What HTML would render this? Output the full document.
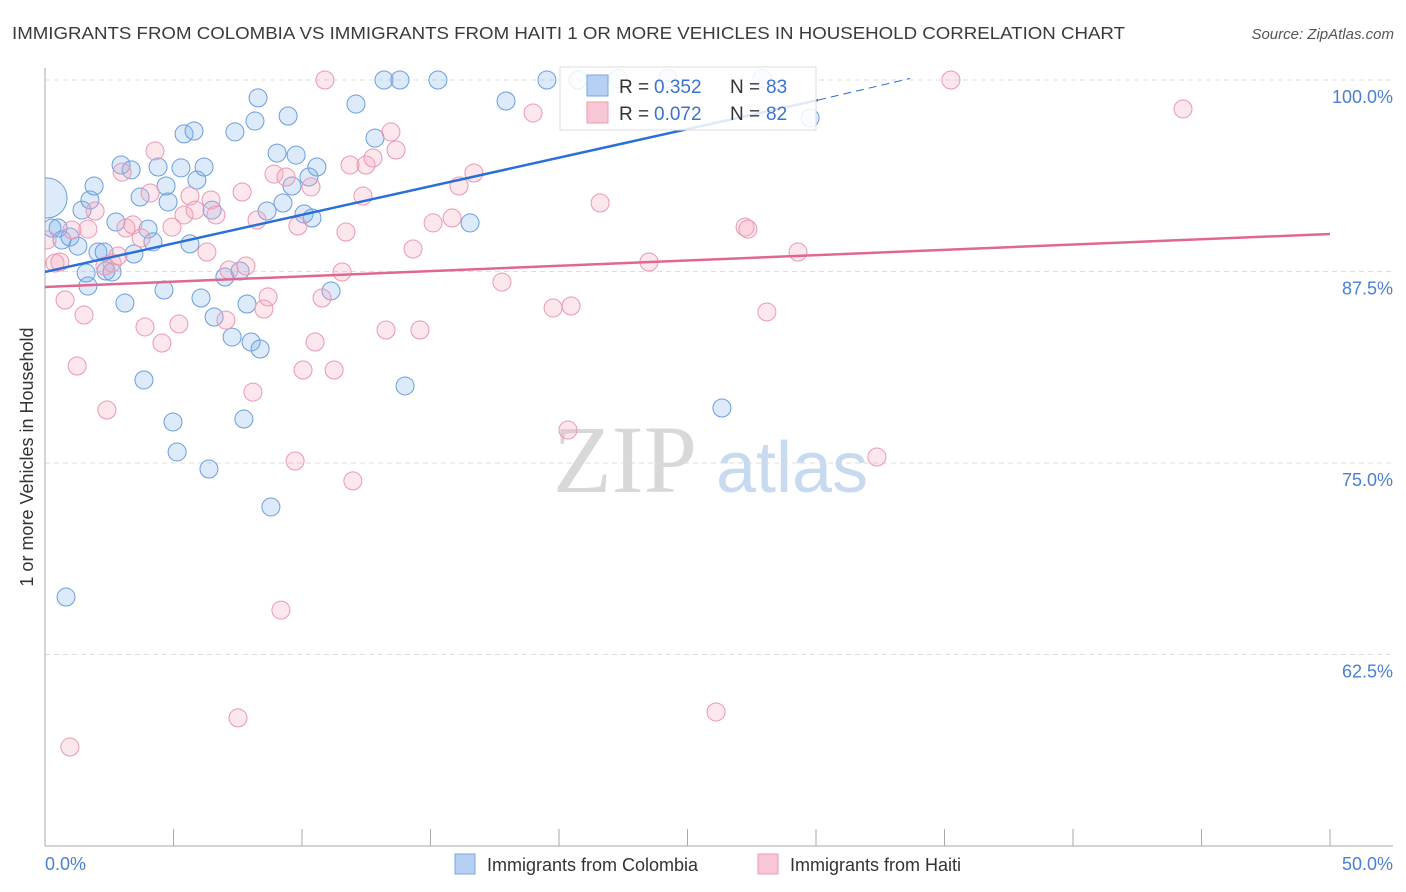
<!DOCTYPE html>
<html><head><meta charset="utf-8"><style>
body{margin:0;background:#fff;font-family:"Liberation Sans",sans-serif}
svg{display:block}
</style></head><body>
<svg id="chart" width="1406" height="892">
<defs><clipPath id="plotclip"><rect x="45" y="60" width="1360" height="786"/></clipPath></defs>
<text x="12" y="39" font-size="17.5" fill="#3a3a3a" textLength="1113" lengthAdjust="spacingAndGlyphs">IMMIGRANTS FROM COLOMBIA VS IMMIGRANTS FROM HAITI 1 OR MORE VEHICLES IN HOUSEHOLD CORRELATION CHART</text>
<text x="1394" y="39" font-size="15" font-style="italic" fill="#555" text-anchor="end">Source: ZipAtlas.com</text>
<text x="0" y="0" transform="translate(33,457) rotate(-90)" font-size="18" fill="#333" text-anchor="middle">1 or more Vehicles in Household</text>
<g>
<text x="553" y="492" font-family="Liberation Serif,serif" font-size="96" fill="#d8d8d8">ZIP</text>
<text x="716" y="492" font-size="72" fill="#c8daf0">atlas</text>
</g>
<g id="grid"></g><g id="axes"></g><g id="pts" clip-path="url(#plotclip)"></g><g id="lines"></g>
<g>
<rect x="560" y="67" width="256" height="63" fill="#fff" fill-opacity="0.85" stroke="#ddd"/>
<rect x="587" y="75" width="21" height="21" fill="#b5d0f3" stroke="#7aa6e0"/>
<rect x="587" y="102" width="21" height="21" fill="#f8c7d5" stroke="#eb9bb5"/>
<text x="619" y="93" font-size="19" fill="#333">R =</text>
<text x="654" y="93" font-size="19" fill="#3a72d0">0.352</text>
<text x="730" y="93" font-size="19" fill="#333">N =</text>
<text x="766" y="93" font-size="19" fill="#3a72d0">83</text>
<text x="619" y="120" font-size="19" fill="#333">R =</text>
<text x="654" y="120" font-size="19" fill="#3a72d0">0.072</text>
<text x="730" y="120" font-size="19" fill="#333">N =</text>
<text x="766" y="120" font-size="19" fill="#3a72d0">82</text>
</g>
<g>
<rect x="455" y="854" width="20" height="20" fill="#b5d0f3" stroke="#7aa6e0"/>
<text x="487" y="871" font-size="18" fill="#333">Immigrants from Colombia</text>
<rect x="758" y="854" width="20" height="20" fill="#f8c7d5" stroke="#eb9bb5"/>
<text x="790" y="871" font-size="18" fill="#333">Immigrants from Haiti</text>
</g>
</svg>
<script>
const yTicks=[100,87.5,75,62.5];
const yTickLabels=["100.0%","87.5%","75.0%","62.5%"];
const xTickLabels=["0.0%","50.0%"];
const blueX=[0.08,0.27,0.51,0.66,0.97,1.28,1.60,1.67,1.44,1.75,1.91,2.06,2.30,2.37,2.61,2.76,3.11,2.96,3.35,3.46,3.70,4.01,3.85,4.20,4.40,4.63,4.71,4.79,4.98,5.14,5.29,5.41,5.64,5.80,5.91,6.07,6.19,6.38,6.50,6.58,7.00,7.28,7.39,7.59,7.74,7.86,8.02,8.17,8.29,8.37,8.64,8.79,9.03,9.26,9.46,9.61,9.77,10.08,10.27,10.39,10.58,11.13,12.10,12.84,13.19,13.81,14.01,15.29,16.54,17.94,19.53,20.74,22.30,24.24,26.34,27.90,29.77,0.82];
const blueY=[92.3,90.34,90.34,89.56,89.75,89.16,87.40,86.55,91.51,92.17,93.08,88.77,88.77,87.53,87.47,90.73,85.44,94.45,94.13,88.64,92.36,90.27,80.42,89.43,94.32,86.29,93.08,92.04,77.68,75.72,94.26,96.48,89.30,96.67,93.47,85.77,94.32,74.61,91.51,84.53,87.14,83.22,96.61,87.53,77.87,85.38,82.90,97.32,98.83,82.44,91.45,72.13,95.23,91.97,97.65,93.08,95.10,91.25,93.67,90.99,94.32,86.23,98.43,96.21,100,100,80.03,100,90.67,98.63,100,100,100.1,100.1,78.59,100.1,97.52,66.25];
const pinkX=[0.08,0.39,0.58,0.78,1.05,1.25,1.52,1.67,1.95,2.41,2.33,2.61,2.84,3.00,3.15,3.42,3.89,3.74,4.09,4.28,4.55,4.94,5.21,5.41,5.64,5.84,6.30,6.46,6.65,7.04,7.16,7.51,7.67,7.82,8.09,8.25,8.52,8.68,8.91,9.18,9.38,9.73,9.84,10.04,10.35,10.51,10.78,10.89,11.25,11.56,11.71,11.87,11.98,12.37,12.49,12.76,13.27,13.46,13.66,14.32,14.59,15.10,15.84,16.11,16.69,17.78,18.99,19.77,20.35,20.47,21.60,23.50,26.11,27.24,27.35,28.09,29.30,32.37,35.25,44.28,0.97];
const pinkY=[89.56,88.05,88.12,85.64,90.21,81.33,84.66,90.27,91.45,78.46,87.86,88.05,88.51,93.99,90.34,90.54,83.88,89.69,92.62,95.37,82.83,90.40,84.07,91.19,92.43,91.51,88.77,92.17,91.19,84.33,87.60,58.36,92.69,87.86,79.63,90.86,85.05,85.84,93.86,65.40,93.67,75.13,90.47,81.07,93.02,82.90,85.77,100,81.07,87.47,90.08,94.45,73.83,92.43,94.45,94.91,83.68,96.61,95.43,88.97,83.68,90.67,90.99,93.08,93.93,86.81,97.85,85.12,77.15,85.25,91.97,88.12,58.75,90.40,90.27,84.86,88.77,75.39,100,98.11,56.46];
const blueFit=[87.47,98.69,30.08,33.66,100.1];
const pinkFit=[86.49,89.95];
const NS="http://www.w3.org/2000/svg";
const X=v=>45+v/50*1285, Y=v=>80+(100-v)/12.5*191.5;
function mk(p,t,a){const e=document.createElementNS(NS,t);for(const k in a)e.setAttribute(k,a[k]);document.getElementById(p).appendChild(e);return e;}
yTicks.forEach((t,i)=>{
 const g=mk('grid','line',{x1:45,x2:1393,y1:Y(t),y2:Y(t),stroke:'#ddd','stroke-dasharray':'5,4'});
 
 
 const l=mk('grid','text',{x:1393,y:Y(t)+23,'font-size':18,fill:'#4a7fd4','text-anchor':'end'});l.textContent=yTickLabels[i];
 
 
});
const ya=mk('axes','line',{x1:45,x2:45,y1:68,y2:846,stroke:'#aaa'});


const xa=mk('axes','line',{x1:45,x2:1393,y1:846,y2:846,stroke:'#aaa'});


for(let i=1;i<=10;i++){const t=mk('axes','line',{x1:X(i*5),x2:X(i*5),y1:829,y2:846,stroke:'#aaa'});
 
 }
const l0=mk('axes','text',{x:45,y:870,'font-size':18,fill:'#4a7fd4'});l0.textContent=xTickLabels[0];


const l1=mk('axes','text',{x:1393,y:870,'font-size':18,fill:'#4a7fd4','text-anchor':'end'});l1.textContent=xTickLabels[1];


blueX.forEach((v,i)=>{const c=mk('pts','circle',{cx:X(v),cy:Y(blueY[i]),r:i==0?20:9,fill:'rgba(130,178,236,0.28)',stroke:'#6a9ddd','stroke-width':1});
 
 });
pinkX.forEach((v,i)=>{const c=mk('pts','circle',{cx:X(v),cy:Y(pinkY[i]),r:9,fill:'rgba(246,168,192,0.28)',stroke:'#eb97b2','stroke-width':1});
 
 });
const bl=mk('lines','line',{x1:X(0),y1:Y(blueFit[0]),x2:X(blueFit[2]),y2:Y(blueFit[1]),stroke:'#2a6fd6','stroke-width':2.5});


const bd=mk('lines','line',{x1:X(blueFit[2]),y1:Y(blueFit[1]),x2:X(blueFit[3]),y2:Y(blueFit[4]),stroke:'#2a6fd6','stroke-width':1,'stroke-dasharray':'8,5'});


const pl=mk('lines','line',{x1:X(0),y1:Y(pinkFit[0]),x2:X(50),y2:Y(pinkFit[1]),stroke:'#e0678f','stroke-width':2.5});


</script>
</body></html>
